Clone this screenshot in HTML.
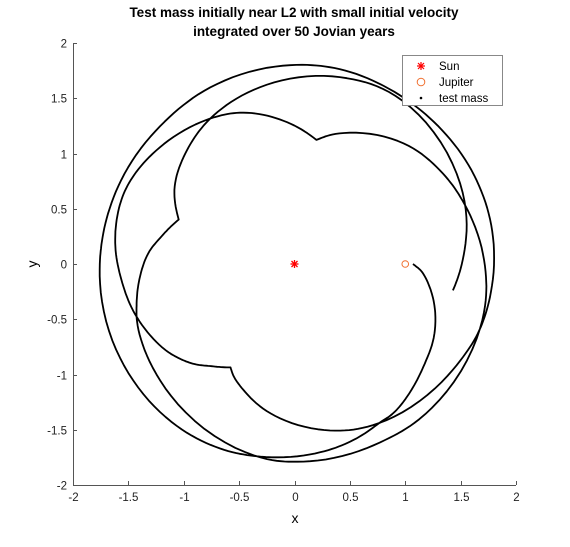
<!DOCTYPE html>
<html><head><meta charset="utf-8"><style>
body{margin:0;background:#fff;}
svg{display:block;font-family:"Liberation Sans",sans-serif;}
</style></head><body>
<svg id="chart" width="570" height="547" viewBox="0 0 570 547">
<rect width="570" height="547" fill="#fff"/>
<text x="294" y="17" text-anchor="middle" font-size="13.5" font-weight="bold">Test mass initially near L2 with small initial velocity</text>
<text x="294" y="36" text-anchor="middle" font-size="13.5" font-weight="bold">integrated over 50 Jovian years</text>
<g id="axes"></g>
<g id="plot"></g>
<text x="295" y="523" text-anchor="middle" font-size="14">x</text>
<text x="37" y="264" text-anchor="middle" font-size="14" transform="rotate(-90 37 264)">y</text>
<g>
<rect x="402.5" y="55.5" width="100" height="50" fill="#fff" stroke="#888" stroke-width="1"/>
<g>
<g stroke="#f00" stroke-width="1.2"><line x1="417" y1="66" x2="425" y2="66"/><line x1="421" y1="62" x2="421" y2="70"/><line x1="418" y1="63" x2="424" y2="69"/><line x1="424" y1="63" x2="418" y2="69"/></g>
<text x="439" y="70" font-size="11.5">Sun</text></g>
<g>
<circle cx="421" cy="82" r="3.8" fill="none" stroke="#f07030" stroke-width="1"/>
<text x="439" y="86" font-size="11.5">Jupiter</text></g>
<g>
<circle cx="421" cy="98" r="1.3" fill="#000"/>
<text x="439" y="102" font-size="11.5">test mass</text></g>
</g>
</svg>
<script>
const xTicks = [-2, -1.5, -1, -0.5, 0, 0.5, 1, 1.5, 2];
const yTicks = [-2, -1.5, -1, -0.5, 0, 0.5, 1, 1.5, 2];
// trajectory in polar form (angle in degrees, radius in Jupiter-orbit units), time-ordered
const trajTheta = [0,-4,-12.3,-20.7,-28.9,-38.7,-55,-62,-71.6,-82.3,-100,-112,-128,-151.7,-178.4,-188,-204,-225.7,-244.6,-268.7,-283,-300,-316,-333.7,-350.5,-369.6,-381,-394,-422,-438,-459,-472,-478,-481.7,-489,-495,-501,-508,-522.6,-534.9,-546.7,-558.7,-568,-581,-600,-611.4,-625.6,-640,-649,-672,-688.5,-701,-720.7,-736.7,-769,-784.6,-807.4,-822,-856,-877,-886,-895.3,-904.2,-911.8,-921,-933,-946.7,-960,-979,-1003.6,-1023.5,-1057,-1078.5,-1089.5];
const trajR = [1.07,1.16,1.27,1.36,1.43,1.49,1.61,1.63,1.68,1.72,1.77,1.80,1.81,1.79,1.76,1.75,1.74,1.74,1.77,1.80,1.81,1.80,1.80,1.81,1.81,1.79,1.77,1.72,1.63,1.54,1.37,1.23,1.16,1.10,1.19,1.28,1.35,1.415,1.51,1.57,1.63,1.665,1.66,1.61,1.52,1.445,1.30,1.14,1.25,1.47,1.57,1.63,1.72,1.77,1.80,1.79,1.79,1.77,1.62,1.53,1.469,1.40,1.324,1.226,1.12,1.29,1.415,1.52,1.63,1.74,1.77,1.65,1.52,1.45];
const cuspIdx = [33, 47, 64];
const sunPos = [0, 0];
const jupiterPos = [1, 0];

const X0=73, X1=516, Y0=485, Y1=43;
const sx = v => X0 + (v + 2) / 4 * (X1 - X0);
const sy = v => Y0 - (v + 2) / 4 * (Y0 - Y1);
const NS = 'http://www.w3.org/2000/svg';
const axes = document.getElementById('axes');
const plot = document.getElementById('plot');
function mk(tag, attrs, parent){const e=document.createElementNS(NS,tag);for(const k in attrs)e.setAttribute(k,attrs[k]);parent.appendChild(e);return e;}

const xl = mk('line',{x1:X0,y1:Y0+0.5,x2:X1,y2:Y0+0.5,stroke:'#555','stroke-width':1},axes);


const yl = mk('line',{x1:X0+0.5,y1:Y0,x2:X0+0.5,y2:Y1,stroke:'#555','stroke-width':1},axes);


xTicks.forEach(t=>{
  const x=Math.round(sx(t))+0.5;
  const tk=mk('line',{x1:x,y1:Y0,x2:x,y2:Y0-4,stroke:'#555'},axes);
  
  
  const lb=mk('text',{x:x,y:Y0+16,'text-anchor':'middle','font-size':11.5,fill:'#222'},axes);
  lb.textContent=String(t);
  
  
});
yTicks.forEach(t=>{
  const y=Math.round(sy(t))+0.5;
  const tk=mk('line',{x1:X0,y1:y,x2:X0+4,y2:y,stroke:'#555'},axes);
  
  
  const lb=mk('text',{x:X0-6,y:y+4,'text-anchor':'end','font-size':11.5,fill:'#222'},axes);
  lb.textContent=String(t);
  
  
});

// smooth interpolation in (theta, r) space, with sharp cusps
const n = trajTheta.length;
const P = trajTheta.map((t,i)=>[t, trajR[i]]);
let d = '';
const SUB = 10;
for(let i=0;i<n-1;i++){
  const p1=P[i], p2=P[i+1];
  const p0 = (i>0 && !cuspIdx.includes(i)) ? P[i-1] : [2*p1[0]-p2[0], 2*p1[1]-p2[1]];
  const p3 = (i+2<n && !cuspIdx.includes(i+1)) ? P[i+2] : [2*p2[0]-p1[0], 2*p2[1]-p1[1]];
  for(let s=(i===0?0:1); s<=SUB; s++){
    const u=s/SUB, u2=u*u, u3=u2*u;
    const f=(a,b,c,e)=>0.5*((2*b)+(-a+c)*u+(2*a-5*b+4*c-e)*u2+(-a+3*b-3*c+e)*u3);
    const th=f(p0[0],p1[0],p2[0],p3[0])*Math.PI/180;
    const r=f(p0[1],p1[1],p2[1],p3[1]);
    const X=sx(r*Math.cos(th)), Y=sy(r*Math.sin(th));
    d += (d===''?'M':'L') + X.toFixed(1)+','+Y.toFixed(1)+' ';
  }
}
const path = mk('path',{d:d,fill:'none',stroke:'#000','stroke-width':1.8,'stroke-linejoin':'round'},plot);



// Sun
const sg = mk('g',{stroke:'#f00','stroke-width':1.3},plot);


const cx=sx(sunPos[0]), cy=sy(sunPos[1]);
mk('line',{x1:cx-4,y1:cy,x2:cx+4,y2:cy},sg);
mk('line',{x1:cx,y1:cy-4,x2:cx,y2:cy+4},sg);
mk('line',{x1:cx-3,y1:cy-3,x2:cx+3,y2:cy+3},sg);
mk('line',{x1:cx+3,y1:cy-3,x2:cx-3,y2:cy+3},sg);
// Jupiter
const jc = mk('circle',{cx:sx(jupiterPos[0]),cy:sy(jupiterPos[1]),r:3.3,fill:'none',stroke:'#f07030','stroke-width':1},plot);


</script>
</body></html>
